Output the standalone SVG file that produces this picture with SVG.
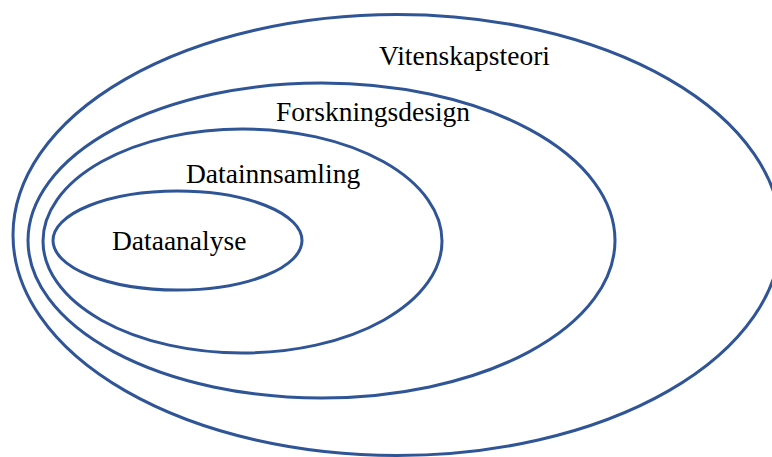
<svg xmlns="http://www.w3.org/2000/svg" width="772" height="457" viewBox="0 0 772 457">
<style>
.ring{fill:none;stroke:#2F5597;stroke-width:3}
.lbl{font-family:"Liberation Serif","Times New Roman",serif;font-size:27.5px;fill:#000}
</style>
<rect width="772" height="457" fill="#fff"/>
<g id="vitenskapsteori">
<ellipse class="ring" cx="397" cy="235" rx="384" ry="220.5"/>
<text class="lbl" x="379" y="65">Vitenskapsteori</text>
</g>
<g id="forskningsdesign">
<ellipse class="ring" cx="321.5" cy="240.5" rx="293.5" ry="157.5"/>
<text class="lbl" x="276" y="121">Forskningsdesign</text>
</g>
<g id="datainnsamling">
<ellipse class="ring" cx="242.5" cy="241" rx="199.5" ry="112"/>
<text class="lbl" x="186" y="183">Datainnsamling</text>
</g>
<g id="dataanalyse">
<ellipse class="ring" cx="177.5" cy="240.5" rx="124.5" ry="49.5"/>
<text class="lbl" x="112" y="250">Dataanalyse</text>
</g>
<g id="connectors"></g>
</svg>
